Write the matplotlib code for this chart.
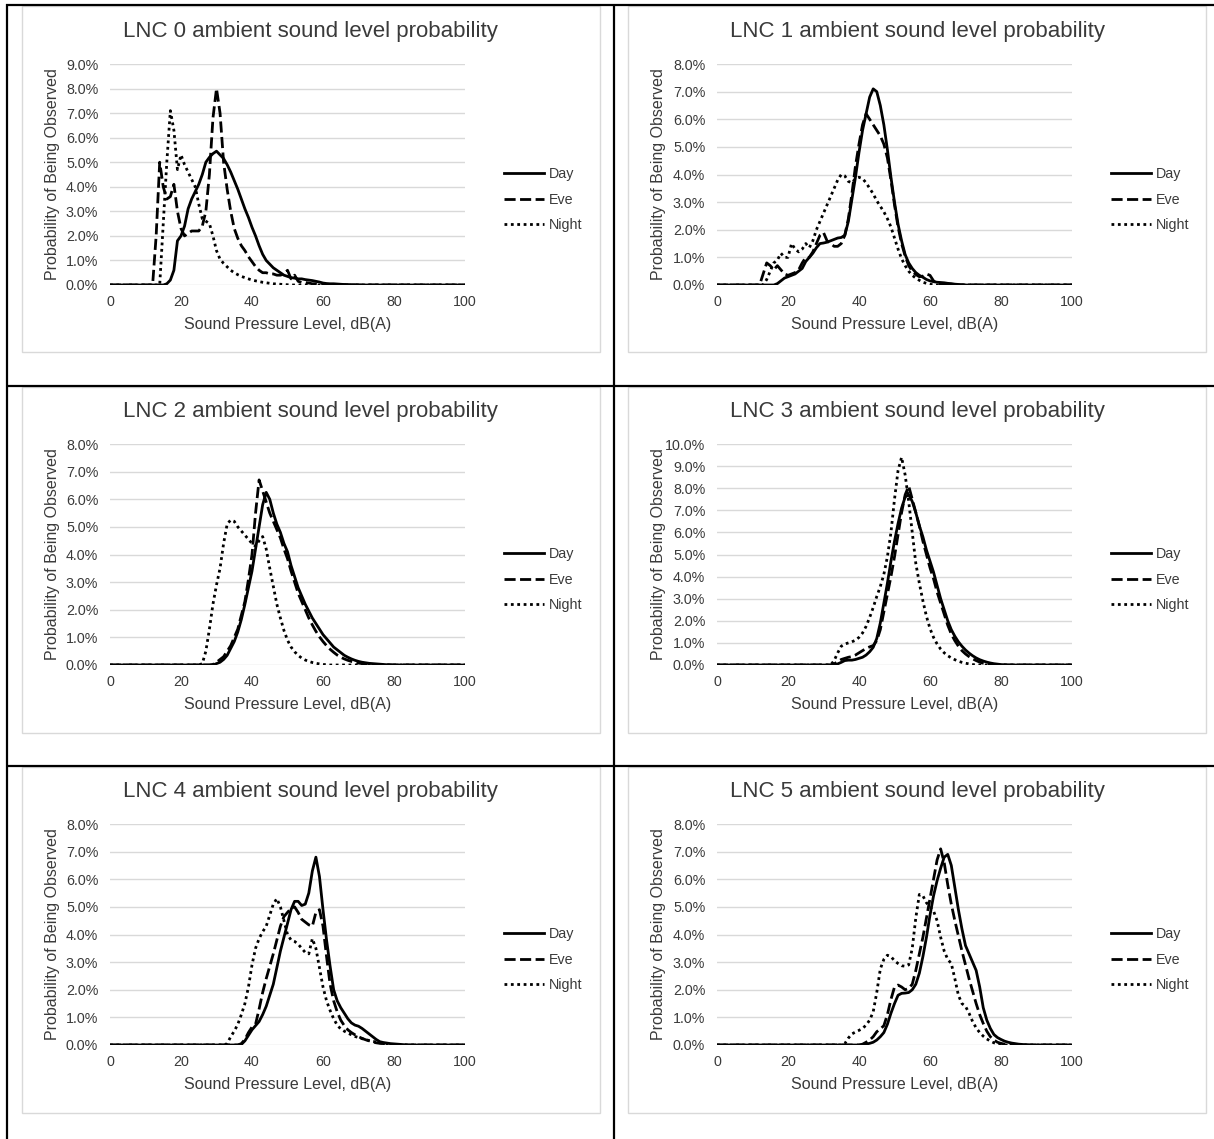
import numpy as np
import matplotlib
matplotlib.use("Agg")
import matplotlib.pyplot as plt
from matplotlib.lines import Line2D
from matplotlib.patches import Rectangle
from matplotlib.ticker import FuncFormatter, MultipleLocator

plt.rcParams["font.family"] = ["Liberation Sans", "DejaVu Sans"]

# Sound pressure level axis, 1 dB bins
SPL = np.arange(0, 101)
SERIES = ["Day", "Eve", "Night"]
PANEL_TITLES = [f"LNC {k} ambient sound level probability" for k in range(6)]
Y_MAX = [9, 8, 8, 10, 8, 8]
X_TICKS = [0, 20, 40, 60, 80, 100]

# Probability (%) per dB bin; each list starts at the given dB value, zero elsewhere
LNC0_DAY_START = 15
LNC0_DAY = [0, 0.05, 0.2, 0.6, 1.8, 2.0, 2.4, 3.1, 3.5, 3.8, 4.1, 4.5, 5.0, 5.2, 5.35,
            5.45, 5.3, 5.15, 4.9, 4.6, 4.25, 3.9, 3.5, 3.1, 2.75, 2.35, 2.0, 1.6, 1.25,
            1.0, 0.85, 0.7, 0.6, 0.5, 0.4, 0.35, 0.3, 0.28, 0.25, 0.25, 0.22, 0.2, 0.18,
            0.15, 0.12, 0.08, 0.06, 0.05, 0.05, 0.04, 0.03, 0.02, 0.02, 0.01, 0.01, 0]
LNC0_EVE_START = 12
LNC0_EVE = [0, 2.0, 5.0, 4.0, 3.5, 3.6, 4.1, 3.0, 2.3, 2.0, 2.1, 2.2, 2.2, 2.2, 2.4, 3.0,
            4.5, 6.8, 8.0, 7.0, 5.0, 3.9, 3.0, 2.3, 1.9, 1.6, 1.4, 1.15, 0.95, 0.75, 0.6,
            0.5, 0.5, 0.45, 0.45, 0.4, 0.4, 0.45, 0.6, 0.25, 0.4, 0.15, 0.1, 0.1, 0.08,
            0.05, 0.05, 0.03, 0]
LNC0_NIGHT_START = 14
LNC0_NIGHT = [0, 2.5, 5.0, 7.1, 6.3, 4.7, 5.3, 4.9, 4.6, 4.3, 4.0, 3.3, 2.7, 2.6, 2.5,
              2.0, 1.4, 1.05, 0.88, 0.74, 0.6, 0.5, 0.42, 0.35, 0.3, 0.25, 0.2, 0.17,
              0.14, 0.11, 0.09, 0.07, 0.05, 0.04, 0.03, 0.02, 0.01, 0]

LNC1_DAY_START = 16
LNC1_DAY = [0, 0.05, 0.15, 0.25, 0.3, 0.35, 0.4, 0.5, 0.6, 0.85, 1.0, 1.15, 1.35, 1.5,
            1.52, 1.55, 1.6, 1.65, 1.7, 1.72, 1.8, 2.3, 3.1, 3.9, 4.8, 5.6, 6.2, 6.8,
            7.1, 7.0, 6.5, 5.8, 4.9, 3.9, 3.0, 2.2, 1.6, 1.1, 0.8, 0.6, 0.45, 0.35, 0.28,
            0.2, 0.15, 0.12, 0.1, 0.09, 0.08, 0.06, 0.05, 0.03, 0.02, 0.01, 0]
LNC1_EVE_START = 12
LNC1_EVE = [0, 0.4, 0.8, 0.7, 0.55, 0.7, 0.55, 0.4, 0.35, 0.4, 0.45, 0.55, 0.8, 1.0,
            1.0, 1.2, 1.5, 1.8, 1.9, 1.6, 1.5, 1.4, 1.4, 1.5, 1.8, 2.4, 3.3, 4.3, 5.1,
            5.8, 6.2, 6.0, 5.8, 5.6, 5.4, 5.1, 4.6, 3.8, 2.9, 2.1, 1.5, 1.05, 0.7, 0.5,
            0.38, 0.3, 0.32, 0.4, 0.35, 0.15, 0.05, 0.02, 0]
LNC1_NIGHT_START = 13
LNC1_NIGHT = [0, 0.2, 0.5, 0.8, 0.9, 1.15, 1.0, 1.0, 1.5, 1.3, 1.2, 1.3, 1.5, 1.35, 1.6,
              2.0, 2.3, 2.6, 2.9, 3.2, 3.5, 3.8, 4.0, 3.95, 3.75, 3.7, 3.85, 3.9, 3.85,
              3.7, 3.5, 3.3, 3.05, 2.85, 2.65, 2.4, 2.1, 1.7, 1.3, 0.95, 0.7, 0.5, 0.35,
              0.25, 0.17, 0.1, 0.06, 0.03, 0]

LNC2_DAY_START = 29
LNC2_DAY = [0, 0.05, 0.1, 0.2, 0.35, 0.6, 0.85, 1.2, 1.65, 2.2, 2.8, 3.4, 4.2, 5.0, 5.8,
            6.25, 6.0, 5.5, 5.1, 4.8, 4.4, 4.1, 3.6, 3.2, 2.8, 2.5, 2.2, 1.95, 1.7, 1.5,
            1.3, 1.1, 0.95, 0.8, 0.65, 0.55, 0.45, 0.35, 0.28, 0.22, 0.17, 0.13, 0.1,
            0.08, 0.06, 0.05, 0.04, 0.03, 0.02, 0.01, 0.01, 0]
LNC2_EVE_START = 28
LNC2_EVE = [0, 0.02, 0.1, 0.2, 0.3, 0.5, 0.7, 1.0, 1.3, 1.8, 2.3, 3.1, 4.0, 5.5, 6.7,
            6.3, 5.9, 5.5, 5.2, 4.9, 4.6, 4.2, 3.85, 3.4, 3.0, 2.6, 2.3, 2.0, 1.7, 1.45,
            1.22, 1.02, 0.85, 0.7, 0.57, 0.46, 0.36, 0.28, 0.22, 0.17, 0.13, 0.1, 0.07,
            0.05, 0.03, 0.02, 0.01, 0]
LNC2_NIGHT_START = 25
LNC2_NIGHT = [0, 0.05, 0.5, 1.3, 2.2, 2.9, 3.5, 4.4, 5.1, 5.25, 5.2, 5.0, 4.85, 4.7,
              4.55, 4.4, 4.3, 4.5, 4.65, 4.2, 3.5, 2.85, 2.2, 1.7, 1.25, 0.9, 0.65, 0.48,
              0.35, 0.25, 0.18, 0.13, 0.09, 0.06, 0.04, 0.02, 0.01, 0]

LNC3_DAY_START = 33
LNC3_DAY = [0, 0.05, 0.12, 0.2, 0.22, 0.22, 0.25, 0.3, 0.35, 0.45, 0.6, 0.8, 1.2, 1.9,
            2.8, 3.7, 4.7, 5.6, 6.4, 7.1, 7.6, 7.7, 7.4, 6.9, 6.3, 5.8, 5.2, 4.7, 4.2,
            3.6, 3.0, 2.5, 2.0, 1.6, 1.3, 1.05, 0.85, 0.68, 0.54, 0.42, 0.32, 0.24, 0.18,
            0.13, 0.09, 0.06, 0.04, 0.02, 0.01, 0]
LNC3_EVE_START = 32
LNC3_EVE = [0, 0.05, 0.15, 0.25, 0.3, 0.35, 0.38, 0.45, 0.55, 0.65, 0.75, 0.82, 0.88,
            1.1, 1.6, 2.4, 3.2, 4.0, 4.9, 5.9, 6.9, 7.7, 8.1, 7.5, 6.9, 6.3, 5.6, 5.0,
            4.4, 3.9, 3.3, 2.8, 2.3, 1.8, 1.4, 1.1, 0.85, 0.65, 0.5, 0.38, 0.28, 0.2,
            0.13, 0.08, 0.05, 0.03, 0.01, 0]
LNC3_NIGHT_START = 32
LNC3_NIGHT = [0, 0.2, 0.55, 0.85, 0.95, 1.0, 1.05, 1.12, 1.25, 1.45, 1.75, 2.15, 2.6,
              3.1, 3.55, 4.1, 4.9, 6.0, 7.5, 8.8, 9.4, 8.6, 7.4, 6.0, 4.6, 3.7, 2.9, 2.2,
              1.65, 1.25, 0.95, 0.72, 0.55, 0.42, 0.32, 0.24, 0.17, 0.12, 0.08, 0.05,
              0.02, 0]

LNC4_DAY_START = 36
LNC4_DAY = [0, 0.02, 0.15, 0.35, 0.55, 0.7, 0.85, 1.1, 1.4, 1.8, 2.2, 2.8, 3.4, 3.9,
            4.4, 4.9, 5.2, 5.2, 5.05, 5.1, 5.5, 6.3, 6.8, 6.1, 4.9, 3.8, 2.85, 2.0, 1.6,
            1.35, 1.15, 0.95, 0.8, 0.72, 0.68, 0.6, 0.5, 0.4, 0.3, 0.2, 0.12, 0.09, 0.07,
            0.05, 0.04, 0.03, 0.02, 0.01, 0]
LNC4_EVE_START = 36
LNC4_EVE = [0, 0.05, 0.2, 0.45, 0.65, 0.75, 1.3, 1.9, 2.4, 2.85, 3.3, 3.8, 4.3, 4.65,
            4.8, 4.95, 5.0, 4.8, 4.55, 4.45, 4.35, 4.3, 4.8, 4.9, 4.3, 3.2, 2.2, 1.6,
            1.2, 0.9, 0.7, 0.55, 0.45, 0.37, 0.3, 0.24, 0.19, 0.15, 0.11, 0.08, 0.06,
            0.05, 0.03, 0.02, 0.01, 0]
LNC4_NIGHT_START = 32
LNC4_NIGHT = [0, 0.05, 0.3, 0.5, 0.75, 1.1, 1.5, 2.1, 2.9, 3.5, 3.85, 4.1, 4.3, 4.7,
              5.1, 5.3, 5.0, 4.5, 4.0, 3.8, 3.75, 3.65, 3.5, 3.35, 3.3, 3.85, 3.5, 2.8,
              2.1, 1.6, 1.25, 0.95, 0.72, 0.58, 0.5, 0.43, 0.37, 0.31, 0.27, 0.23, 0.2,
              0.16, 0.13, 0.11, 0.08, 0.06, 0.04, 0.02, 0.01, 0]

LNC5_DAY_START = 41
LNC5_DAY = [0, 0.03, 0.06, 0.1, 0.18, 0.3, 0.45, 0.75, 1.15, 1.5, 1.8, 1.87, 1.88, 1.9,
            2.0, 2.2, 2.6, 3.2, 3.9, 4.7, 5.4, 5.95, 6.4, 6.8, 6.9, 6.5, 5.7, 4.9, 4.2,
            3.6, 3.3, 3.0, 2.7, 2.1, 1.35, 0.9, 0.6, 0.38, 0.27, 0.2, 0.14, 0.1, 0.07,
            0.05, 0.03, 0.02, 0.01, 0]
LNC5_EVE_START = 40
LNC5_EVE = [0, 0.03, 0.1, 0.18, 0.3, 0.48, 0.58, 0.7, 1.1, 1.65, 2.1, 2.17, 2.1, 2.0,
            2.05, 2.2, 2.7, 3.3, 3.9, 4.6, 5.3, 6.0, 6.7, 7.1, 6.6, 5.8, 5.1, 4.5, 3.95,
            3.4, 2.9, 2.4, 1.95, 1.5, 1.1, 0.78, 0.5, 0.3, 0.18, 0.1, 0.06, 0.03, 0.01, 0]
LNC5_NIGHT_START = 35
LNC5_NIGHT = [0, 0.05, 0.25, 0.4, 0.47, 0.53, 0.6, 0.72, 0.9, 1.2, 1.9, 2.75, 3.1, 3.25,
              3.2, 3.05, 2.95, 2.87, 2.85, 2.9, 3.5, 4.6, 5.45, 5.4, 5.15, 5.0, 4.85, 4.5,
              3.9, 3.4, 3.1, 2.95, 2.4, 1.8, 1.5, 1.4, 1.15, 0.85, 0.62, 0.45, 0.32, 0.22,
              0.14, 0.08, 0.04, 0.02, 0]

PANELS = [
    [(LNC0_DAY_START, LNC0_DAY), (LNC0_EVE_START, LNC0_EVE), (LNC0_NIGHT_START, LNC0_NIGHT)],
    [(LNC1_DAY_START, LNC1_DAY), (LNC1_EVE_START, LNC1_EVE), (LNC1_NIGHT_START, LNC1_NIGHT)],
    [(LNC2_DAY_START, LNC2_DAY), (LNC2_EVE_START, LNC2_EVE), (LNC2_NIGHT_START, LNC2_NIGHT)],
    [(LNC3_DAY_START, LNC3_DAY), (LNC3_EVE_START, LNC3_EVE), (LNC3_NIGHT_START, LNC3_NIGHT)],
    [(LNC4_DAY_START, LNC4_DAY), (LNC4_EVE_START, LNC4_EVE), (LNC4_NIGHT_START, LNC4_NIGHT)],
    [(LNC5_DAY_START, LNC5_DAY), (LNC5_EVE_START, LNC5_EVE), (LNC5_NIGHT_START, LNC5_NIGHT)],
]


def full_curve(start, values):
    y = np.zeros(len(SPL))
    y[start:start + len(values)] = values
    return y


LINE_STYLES = {
    "Day": dict(linestyle="-"),
    "Eve": dict(linestyle=(0, (4.0, 1.6))),
    "Night": dict(linestyle=(0, (1.0, 1.3))),
}

TEXT = "#3a3a3a"
GRID = "#d9d9d9"
W, H = 1214, 1139

fig = plt.figure(figsize=(W / 100, H / 100), dpi=100)
fig.patch.set_facecolor("white")


def fx(px):
    return px / W


def fy(py):
    return 1 - py / H


box_tops = [6, 387, 767]
box_lefts = [22, 628]
box_w, box_h = 578, 346

for i, series in enumerate(PANELS):
    r, c = divmod(i, 2)
    # chart frame
    fig.add_artist(Rectangle((fx(box_lefts[c]), fy(box_tops[r] + box_h)),
                             box_w / W, box_h / H, transform=fig.transFigure,
                             facecolor="white", edgecolor=GRID, lw=1.0, zorder=0))

    left = 110 + 607 * c
    top = 64 + 380 * r
    ax = fig.add_axes([fx(left), fy(top + 221), 355 / W, 221 / H])
    ax.set_facecolor("none")

    for name, (start, vals) in zip(SERIES, series):
        ax.plot(SPL, full_curve(start, vals), color="black", lw=2.0,
                solid_joinstyle="round", label=name, **LINE_STYLES[name])

    ax.set_xlim(0, 100)
    ax.set_ylim(0, Y_MAX[i])
    ax.set_xticks(X_TICKS)
    ax.yaxis.set_major_locator(MultipleLocator(1))
    ax.yaxis.set_major_formatter(FuncFormatter(lambda v, p: f"{v:.1f}%"))
    ax.grid(axis="y", color=GRID, lw=1.0)
    ax.set_axisbelow(True)
    for s in ax.spines.values():
        s.set_visible(False)
    ax.tick_params(axis="y", length=0, pad=8.5, labelsize=10.3, labelcolor=TEXT)
    ax.tick_params(axis="x", length=0, pad=7.0, labelsize=10.3, labelcolor=TEXT)

    leg = ax.legend(loc="center left", bbox_to_anchor=(1.11, 0.385), frameon=False,
                    fontsize=10.3, handlelength=2.8, handletextpad=0.35,
                    labelspacing=0.8, borderpad=0, borderaxespad=0)
    for t in leg.get_texts():
        t.set_color(TEXT)

    fig.text(fx(310 + 607 * c), fy(32 + 380 * r), PANEL_TITLES[i], ha="center",
             va="center", fontsize=16, color=TEXT)
    fig.text(fx(287.5 + 607 * c), fy(325 + 380 * r), "Sound Pressure Level, dB(A)",
             ha="center", va="center", fontsize=11.5, color=TEXT)
    fig.text(fx(52 + 607 * c), fy(174.5 + 380 * r), "Probability of Being Observed",
             ha="center", va="center", rotation=90, fontsize=11.5, color=TEXT)

# table rules
rule = dict(color="black", lw=1.6, transform=fig.transFigure, solid_capstyle="butt")
fig.add_artist(Line2D([fx(6), fx(W)], [fy(5), fy(5)], **rule))
fig.add_artist(Line2D([fx(6), fx(W)], [fy(386), fy(386)], **rule))
fig.add_artist(Line2D([fx(6), fx(W)], [fy(766), fy(766)], **rule))
fig.add_artist(Line2D([fx(7), fx(7)], [fy(4), fy(H)], **rule))
fig.add_artist(Line2D([fx(614), fx(614)], [fy(4), fy(H)], **rule))

fig.savefig("out.png", dpi=100, facecolor="white")
